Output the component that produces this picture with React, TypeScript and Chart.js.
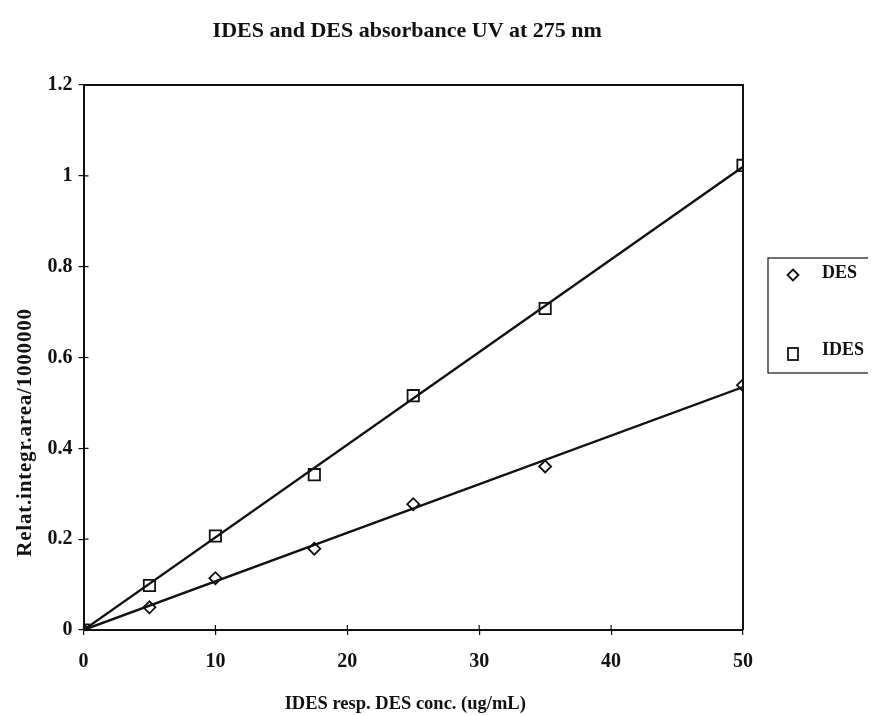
import React, { useEffect, useRef } from "react";
import { Chart, registerables } from "chart.js";
Chart.register(...registerables);

const concentrations = [0, 5, 10, 17.5, 25, 35, 50];
const desValues = [0, 0.05, 0.114, 0.179, 0.277, 0.36, 0.539];
const idesValues = [0, 0.098, 0.207, 0.342, 0.516, 0.708, 1.023];
const trendX = [0, 50];
const desTrend = [0, 0.535];
const idesTrend = [0, 1.02];
const xTicks = [0, 10, 20, 30, 40, 50];
const yTicks = [0, 0.2, 0.4, 0.6, 0.8, 1, 1.2];
const seriesNames = ["DES", "IDES"];
const titleText = "IDES and DES absorbance UV at 275 nm";
const xTitle = "IDES resp. DES conc. (ug/mL)";
const yTitle = "Relat.integr.area/1000000";

const FONT = "'Liberation Serif', 'Times New Roman', serif";
const INK = "#111";

const decorPlugin = {
  id: "decor",
  afterDraw(chart: any) {
    const { ctx, chartArea, scales } = chart;
    const { left, right, top, bottom } = chartArea;
    ctx.save();
    ctx.strokeStyle = INK;
    ctx.lineWidth = 2;
    ctx.beginPath();
    ctx.moveTo(left, top);
    ctx.lineTo(right, top);
    ctx.lineTo(right, bottom);
    ctx.stroke();
    ctx.lineWidth = 1.2;
    ctx.beginPath();
    xTicks.forEach((v) => {
      const px = scales.x.getPixelForValue(v);
      ctx.moveTo(px, bottom);
      ctx.lineTo(px, bottom - 5);
    });
    yTicks.forEach((v) => {
      const py = scales.y.getPixelForValue(v);
      ctx.moveTo(left, py);
      ctx.lineTo(left + 5, py);
    });
    ctx.stroke();

    ctx.fillStyle = INK;
    // title
    ctx.font = `bold 22px ${FONT}`;
    ctx.textAlign = "center";
    ctx.textBaseline = "alphabetic";
    ctx.fillText(titleText, (left + right) / 2 - 6, top - 48);
    // x title
    ctx.font = `bold 18.5px ${FONT}`;
    ctx.fillText(xTitle, (left + right) / 2 - 8, bottom + 79);
    // y title
    ctx.save();
    ctx.translate(left - 58, (top + bottom) / 2 + 75);
    ctx.rotate(-Math.PI / 2);
    ctx.font = `bold 21px ${FONT}`;
    try {
      (ctx as any).letterSpacing = "0.8px";
    } catch (e) {}
    ctx.textBaseline = "middle";
    ctx.fillText(yTitle, 0, 0);
    ctx.restore();

    // legend
    const lx = right + 25;
    const ly = top + 173;
    ctx.lineWidth = 1.2;
    ctx.strokeRect(lx, ly, 200, 115);
    ctx.lineWidth = 1.8;
    const dx = lx + 25, dy = ly + 17;
    ctx.beginPath();
    ctx.moveTo(dx, dy - 5.5);
    ctx.lineTo(dx + 5.5, dy);
    ctx.lineTo(dx, dy + 5.5);
    ctx.lineTo(dx - 5.5, dy);
    ctx.closePath();
    ctx.stroke();
    const sx = lx + 25, sy = ly + 96;
    ctx.strokeRect(sx - 5, sy - 6, 10, 12);
    ctx.font = `bold 18px ${FONT}`;
    ctx.textAlign = "left";
    ctx.textBaseline = "middle";
    ctx.fillText(seriesNames[0], lx + 54, ly + 15);
    ctx.fillText(seriesNames[1], lx + 54, ly + 92);
    ctx.restore();
  },
};

export default function App() {
  const ref = useRef<HTMLCanvasElement>(null);
  useEffect(() => {
    const canvas = ref.current;
    if (!canvas) return;
    const chart = new Chart(canvas, {
      type: "scatter",
      data: {
        datasets: [
          {
            label: seriesNames[0] + " trend",
            data: trendX.map((x, i) => ({ x, y: desTrend[i] })),
            showLine: true,
            borderColor: INK,
            borderWidth: 2.4,
            pointRadius: 0,
          },
          {
            label: seriesNames[1] + " trend",
            data: trendX.map((x, i) => ({ x, y: idesTrend[i] })),
            showLine: true,
            borderColor: INK,
            borderWidth: 2.4,
            pointRadius: 0,
          },
          {
            label: seriesNames[0],
            data: concentrations.map((x, i) => ({ x, y: desValues[i] })),
            pointStyle: "rectRot",
            pointRadius: 6,
            borderColor: INK,
            borderWidth: 1.8,
            backgroundColor: "rgba(255,255,255,0)",
          },
          {
            label: seriesNames[1],
            data: concentrations.map((x, i) => ({ x, y: idesValues[i] })),
            pointStyle: "rect",
            pointRadius: 8,
            borderColor: INK,
            borderWidth: 1.8,
            backgroundColor: "rgba(255,255,255,0)",
          },
        ],
      },
      options: {
        animation: false,
        responsive: true,
        maintainAspectRatio: false,
        layout: { padding: { top: 77, right: 125, left: 0, bottom: 8 } },
        plugins: {
          legend: { display: false },
          title: { display: false },
          tooltip: { enabled: false },
        },
        scales: {
          x: {
            type: "linear",
            min: 0,
            max: 50,
            afterBuildTicks: (s: any) => {
              s.ticks = xTicks.map((v) => ({ value: v }));
            },
            afterFit: (s: any) => {
              s.height = 77;
            },
            grid: {
              display: true,
              drawOnChartArea: false,
              drawTicks: true,
              tickLength: 5,
              color: INK,
              lineWidth: 1.2,
            },
            border: { display: true, color: INK, width: 2 },
            ticks: {
              color: INK,
              padding: 15,
              callback: (v: any) => String(v),
              font: { family: FONT, size: 20, weight: "bold" },
            },
          },
          y: {
            type: "linear",
            min: 0,
            max: 1.2,
            afterBuildTicks: (s: any) => {
              s.ticks = yTicks.map((v) => ({ value: v }));
            },
            afterFit: (s: any) => {
              s.width = 75.5;
            },
            grid: {
              display: true,
              drawOnChartArea: false,
              drawTicks: true,
              tickLength: 5,
              color: INK,
              lineWidth: 1.2,
            },
            border: { display: true, color: INK, width: 2 },
            ticks: {
              color: INK,
              padding: 6,
              callback: (v: any) => String(v),
              font: { family: FONT, size: 20, weight: "bold" },
            },
          },
        },
      },
      plugins: [decorPlugin],
    } as any);
    return () => chart.destroy();
  }, []);
  return (
    <div style={{ position: "absolute", left: 8, top: 8, width: 860, height: 707 }}>
      <canvas ref={ref} />
    </div>
  );
}
